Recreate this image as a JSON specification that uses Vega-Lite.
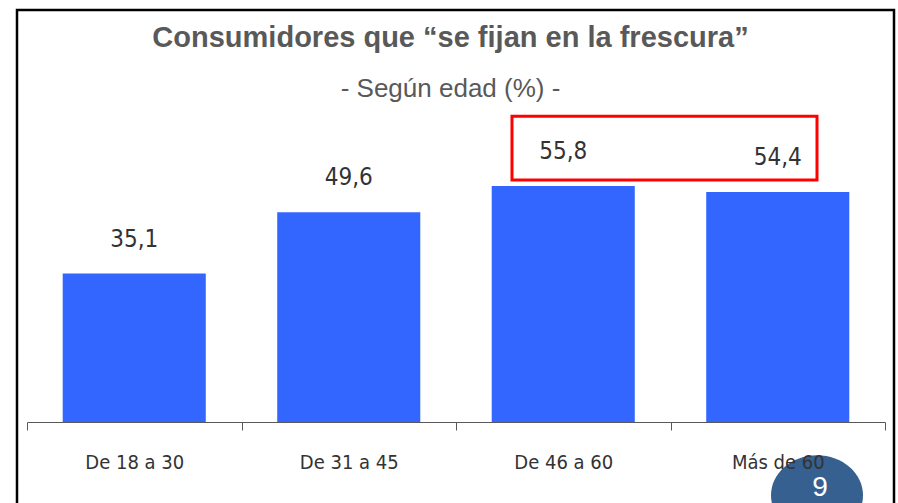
{
  "$schema": "https://vega.github.io/schema/vega-lite/v6.json",
  "width": 877,
  "height": 500,
  "autosize": {"type": "none"},
  "padding": {"left": 17, "top": 10, "right": 4, "bottom": 0},
  "background": "white",
  "config": {"view": {"stroke": "#000000", "strokeWidth": 2.5}, "font": "Liberation Sans"},
  "title": {
    "text": "Consumidores que “se fijan en la frescura”",
    "subtitle": "- Según edad (%) -",
    "anchor": "middle",
    "frame": "group",
    "offset": -92,
    "dx": -5,
    "fontSize": 29,
    "fontWeight": "bold",
    "color": "#595959",
    "font": "Liberation Sans",
    "subtitleFont": "Liberation Sans",
    "subtitleFontSize": 26,
    "subtitleColor": "#595959",
    "subtitlePadding": 23
  },
  "datasets": {
    "bars": [
      {"edad": "De 18 a 30", "valor": 35.1, "etiqueta": "35,1"},
      {"edad": "De 31 a 45", "valor": 49.6, "etiqueta": "49,6"},
      {"edad": "De 46 a 60", "valor": 55.8, "etiqueta": "55,8"},
      {"edad": "Más de 60", "valor": 54.4, "etiqueta": "54,4"}
    ],
    "caja": [{"x1": 2.261, "x2": 3.683, "y1": 57.2, "y2": 72.3}],
    "pagina": [{"px": 3.683, "py": -17.3, "tx": 3.697, "ty": -15.6, "num": "9"}]
  },
  "layer": [
    {
      "data": {"name": "bars"},
      "mark": {"type": "bar", "color": "#3366FF", "width": {"band": 0.667}},
      "encoding": {
        "x": {
          "field": "edad", "type": "nominal", "sort": null,
          "scale": {"range": [10, 868], "paddingInner": 0, "paddingOuter": 0},
          "axis": {
            "title": null, "labelAngle": 0, "zindex": 1,
            "offset": -88,
            "domainColor": "#595959", "domainWidth": 1,
            "tickColor": "#595959", "tickSize": 8, "tickBand": "extent",
            "labelFont": "DejaVu Sans Condensed, Liberation Sans, sans-serif", "labelFontSize": 20,
            "labelColor": "#333333", "labelPadding": 22
          }
        },
        "y": {"field": "valor", "type": "quantitative", "scale": {"domain": [0, 74], "range": [412, 99]}, "axis": null}
      }
    },
    {
      "data": {"name": "bars"},
      "mark": {"type": "text", "dy": -27, "baseline": "alphabetic", "font": "DejaVu Sans Condensed, Liberation Sans, sans-serif", "fontSize": 24, "color": "#333333"},
      "encoding": {
        "x": {"field": "edad", "type": "nominal", "sort": null, "scale": {"range": [10, 868], "paddingInner": 0, "paddingOuter": 0}, "axis": null},
        "y": {"field": "valor", "type": "quantitative", "scale": {"domain": [0, 74], "range": [412, 99]}, "axis": null},
        "text": {"field": "etiqueta"}
      }
    },
    {
      "data": {"name": "caja"},
      "mark": {"type": "rect", "fill": null, "fillOpacity": 0, "stroke": "#FF0000", "strokeWidth": 3},
      "encoding": {
        "x": {"field": "x1", "type": "quantitative", "scale": {"domain": [0, 4], "range": [10, 868]}, "axis": null},
        "x2": {"field": "x2"},
        "y": {"field": "y1", "type": "quantitative", "scale": {"domain": [0, 74], "range": [412, 99]}, "axis": null},
        "y2": {"field": "y2"}
      }
    },
    {
      "data": {"name": "pagina"},
      "mark": {"type": "point", "filled": true, "opacity": 1, "color": "#35608F", "size": 8464, "shape": "M -1 0 A 1 0.87 0 1 0 1 0 A 1 0.87 0 1 0 -1 0 Z"},
      "encoding": {
        "x": {"field": "px", "type": "quantitative", "scale": {"domain": [0, 4], "range": [10, 868]}, "axis": null},
        "y": {"field": "py", "type": "quantitative", "scale": {"domain": [0, 74], "range": [412, 99]}, "axis": null}
      }
    },
    {
      "data": {"name": "pagina"},
      "mark": {"type": "text", "baseline": "middle", "fontSize": 28, "color": "#FFFFFF", "font": "Liberation Sans"},
      "encoding": {
        "x": {"field": "tx", "type": "quantitative", "scale": {"domain": [0, 4], "range": [10, 868]}, "axis": null},
        "y": {"field": "ty", "type": "quantitative", "scale": {"domain": [0, 74], "range": [412, 99]}, "axis": null},
        "text": {"field": "num"}
      }
    }
  ],
  "resolve": {"scale": {"x": "independent"}}
}
